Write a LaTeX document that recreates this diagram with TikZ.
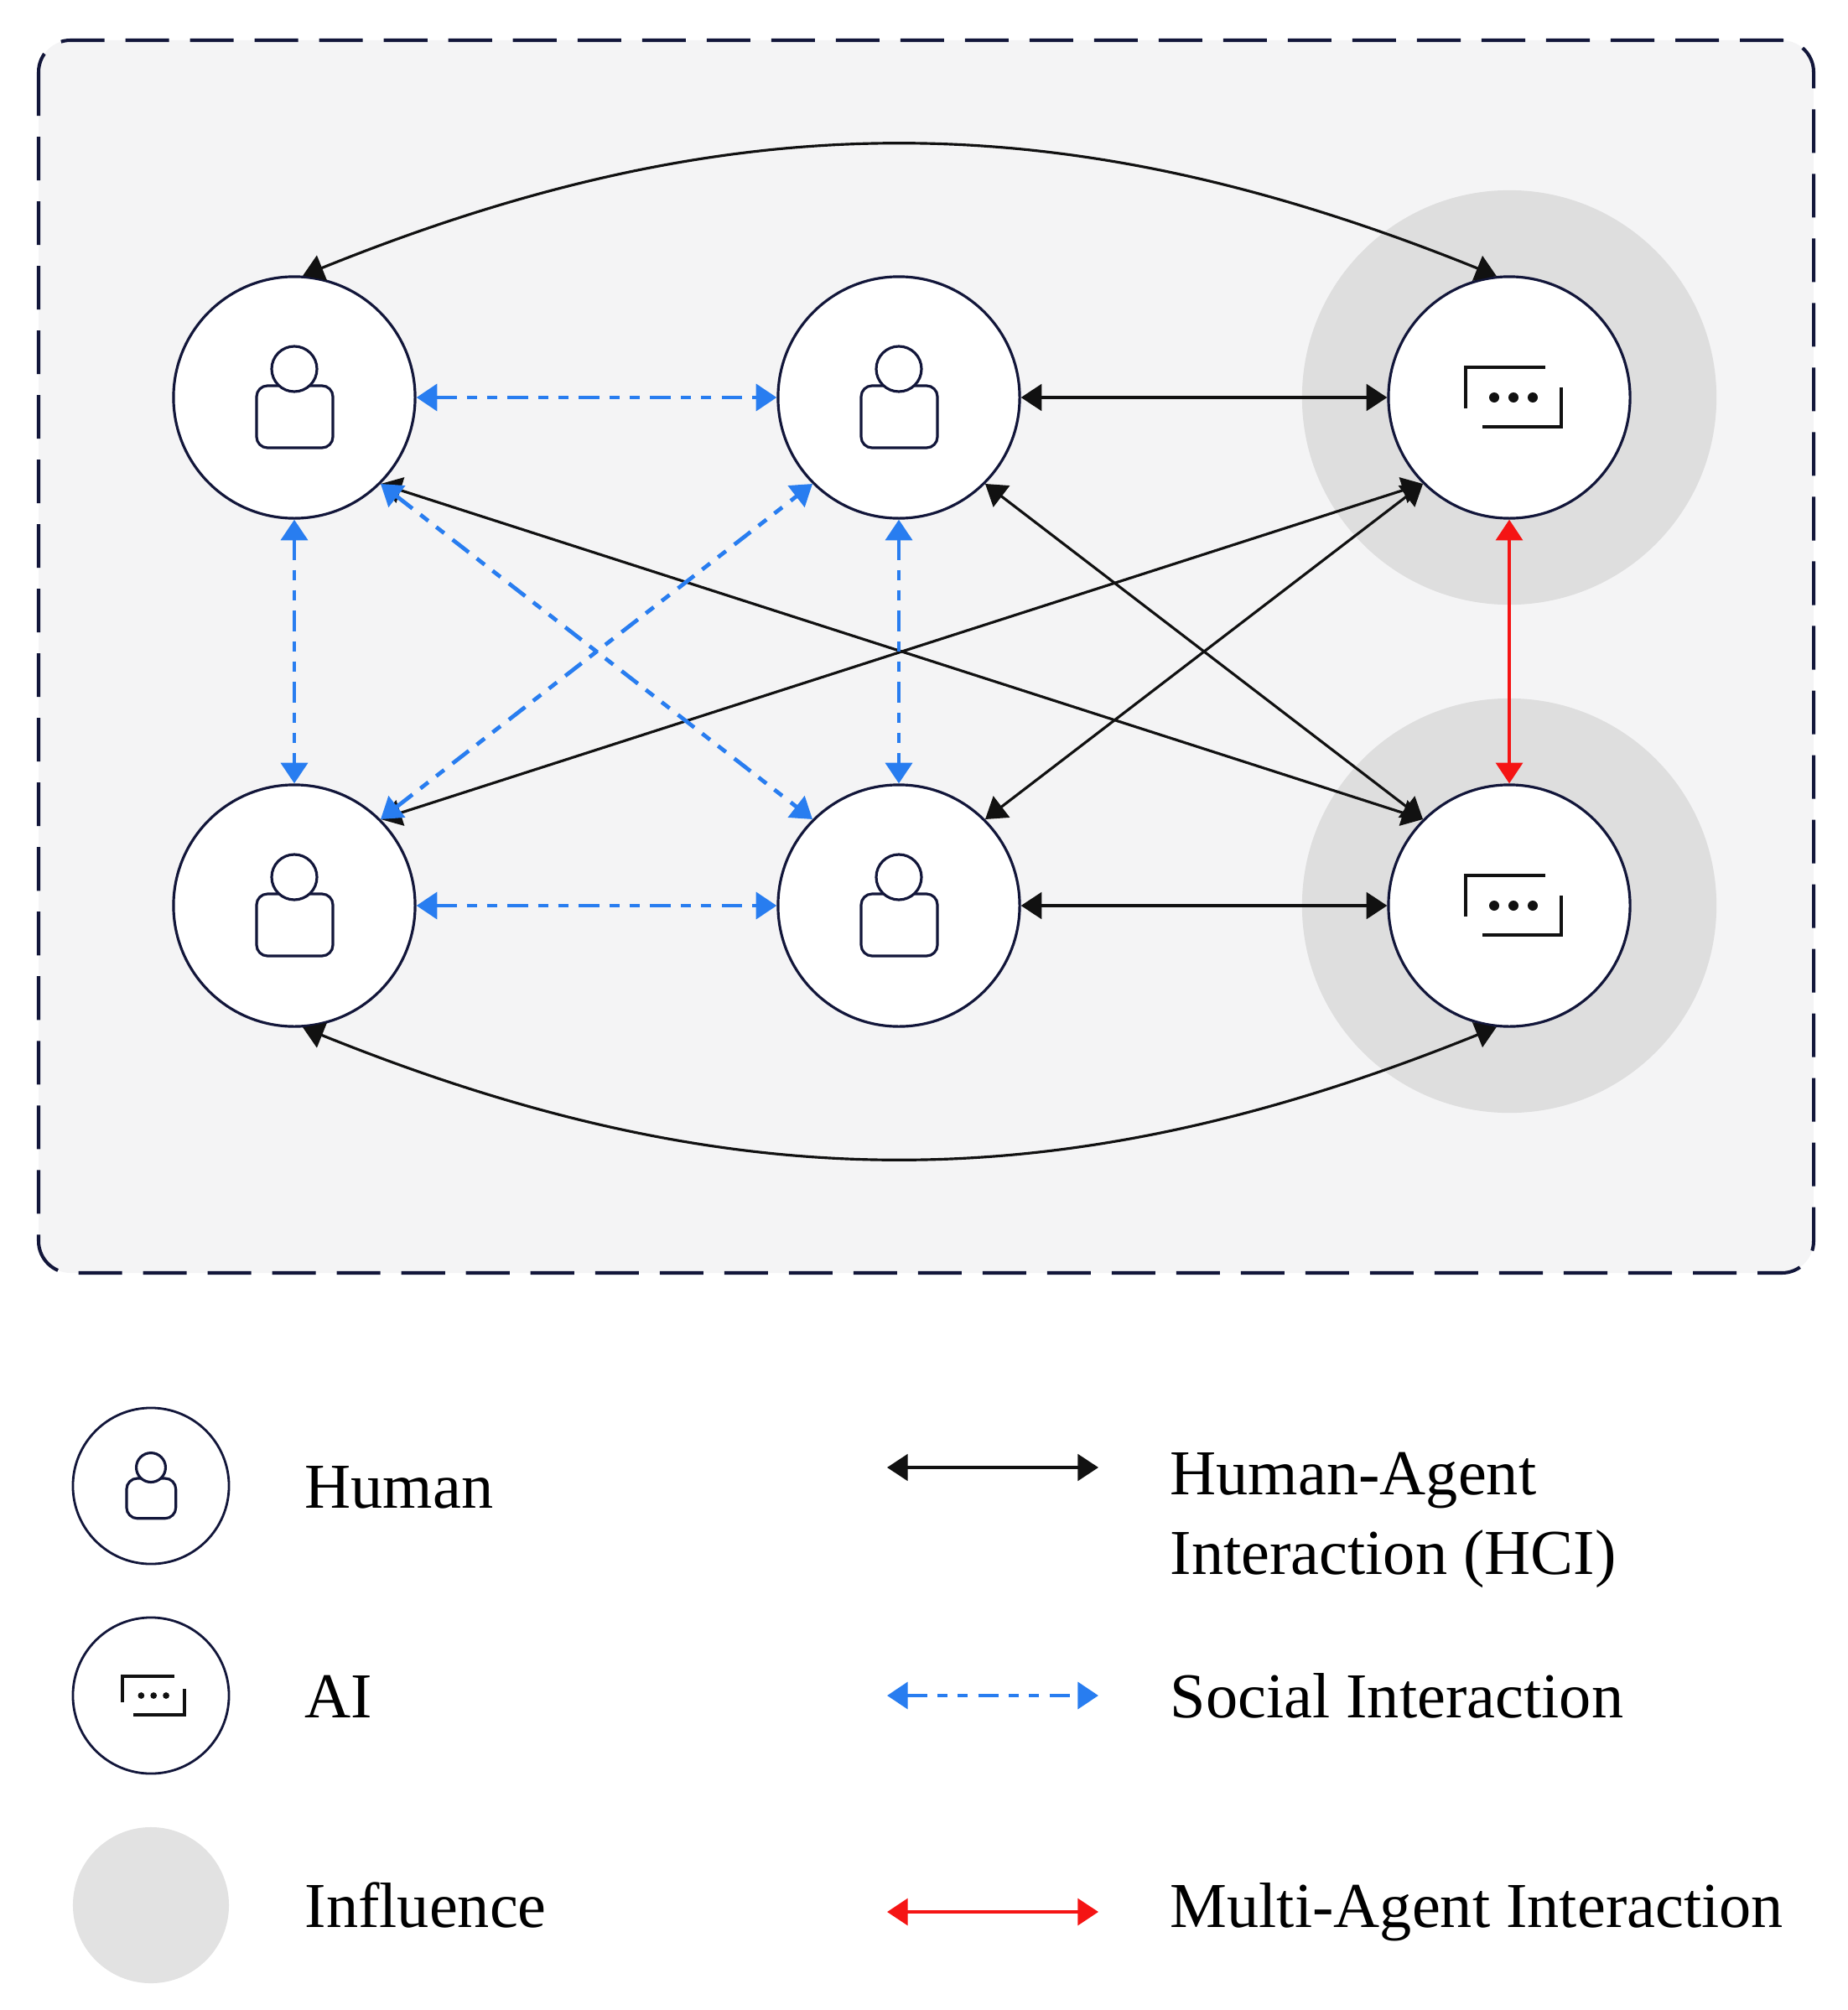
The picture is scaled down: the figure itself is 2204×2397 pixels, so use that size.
\documentclass[tikz,border=0pt]{standalone}
\usepackage{fontspec}
\setmainfont{Liberation Serif}
\usetikzlibrary{arrows.meta}
\definecolor{navy}{RGB}{18,22,58}
\definecolor{bgray}{RGB}{244,244,245}
\definecolor{infl}{RGB}{222,222,222}
\definecolor{infltwo}{RGB}{226,226,226}
\definecolor{soc}{RGB}{40,125,240}
\definecolor{hcik}{RGB}{17,17,17}
\definecolor{maired}{RGB}{245,20,20}
\begin{document}
\begin{tikzpicture}[x=0.01cm,y=0.01cm,
  agent/.style={circle,draw=navy,fill=white,line width=0.9pt,minimum size=2.88cm,inner sep=0pt},
  lagent/.style={circle,draw=navy,fill=white,line width=0.8pt,minimum size=1.86cm,inner sep=0pt},
  halo/.style={circle,fill=infl,minimum size=4.94cm,inner sep=0pt},
  frame/.style={draw=navy,fill=bgray,line width=1.15pt,rounded corners=0.38cm,dash pattern=on 14.8pt off 7.1pt},
  hci/.style={draw=hcik,line width=0.9pt,{Triangle[length=7pt,width=9pt]}-{Triangle[length=7pt,width=9pt]}},
  social/.style={draw=soc,line width=1.35pt,dash pattern=on 7pt off 3.4pt on 3.4pt off 3.4pt on 3.4pt off 3.6pt,{Triangle[length=7pt,width=9pt]}-{Triangle[length=7pt,width=9pt]}},
  mai/.style={draw=maired,line width=1.1pt,{Triangle[length=7pt,width=9pt]}-{Triangle[length=7pt,width=9pt]}},
  lbl/.style={anchor=base west,inner sep=0pt,font=\fontsize{21.7pt}{26pt}\selectfont},
  pics/person/.style={code={
    \draw[navy,line width=0.9pt,rounded corners=0.13cm] (-45,-60) rectangle (46,14);
    \draw[navy,line width=0.9pt,fill=white] (0,34) circle[radius=27];
  }},
  pics/aiicon/.style={code={
    \draw[hcik,line width=1.1pt] (-52,-13) -- (-52,36) -- (43,36);
    \draw[hcik,line width=1.1pt] (-32,-35) -- (62,-35) -- (62,12);
    \fill[hcik] (-18,0) circle[radius=6] (5,0) circle[radius=6] (28,0) circle[radius=6];
  }}
]
\useasboundingbox (0,0) rectangle (2204,-2397);

% frame
\path[frame] (46,-48) rectangle (2163,-1518);

% influence halos
\node[halo] (g1) at (1800,-474) {};
\node[halo] (g2) at (1800,-1080) {};

% agents
\node[agent] (h1) at (351,-474) {};
\node[agent] (h2) at (1072,-474) {};
\node[agent] (a1) at (1800,-474) {};
\node[agent] (h3) at (351,-1080) {};
\node[agent] (h4) at (1072,-1080) {};
\node[agent] (a2) at (1800,-1080) {};
\pic at (h1) {person};
\pic at (h2) {person};
\pic at (h3) {person};
\pic at (h4) {person};
\pic at (a1) {aiicon};
\pic at (a2) {aiicon};

% human-agent interactions
\draw[hci] (h1.86) to[out=22,in=158] (a1.96);
\draw[hci] (h3.-86) to[out=-22,in=-158] (a2.-96);
\draw[hci] (h2.east) -- (a1.west);
\draw[hci] (h4.east) -- (a2.west);
\draw[hci] (h1.-45) -- (a2.135);
\draw[hci] (h2.-45) -- (a2.135);
\draw[hci] (h3.45) -- (a1.-135);
\draw[hci] (h4.45) -- (a1.-135);

% social interactions
\draw[social] (h1.east) -- (h2.west);
\draw[social] (h3.east) -- (h4.west);
\draw[social] (h1.south) -- (h3.north);
\draw[social] (h2.south) -- (h4.north);
\draw[social] (h1.-45) -- (h4.135);
\draw[social] (h3.45) -- (h2.-135);

% multi-agent interaction
\draw[mai] (a1.south) -- (a2.north);

% legend
\node[lagent] (lh) at (180,-1772) {};
\pic[scale=0.646] at (lh) {person};
\node[lagent] (la) at (180,-2022) {};
\pic[scale=0.646] at (la) {aiicon};
\node[circle,fill=infltwo,minimum size=1.86cm,inner sep=0pt] (li) at (180,-2272) {};

\node[lbl] (th) at (363,-1798) {Human};
\node[lbl] (ta) at (363,-2048) {AI};
\node[lbl] (ti) at (363,-2298) {Influence};

\coordinate (k1a) at (1058,-1750);
\coordinate (k1b) at (1310,-1750);
\coordinate (k2a) at (1058,-2022);
\coordinate (k2b) at (1310,-2022);
\coordinate (k3a) at (1058,-2280);
\coordinate (k3b) at (1310,-2280);
\draw[hci] (k1a) -- (k1b);
\draw[social] (k2a) -- (k2b);
\draw[mai] (k3a) -- (k3b);

\node[lbl] (tk1) at (1395,-1782) {Human-Agent};
\node[lbl] (tk1b) at (1395,-1877) {Interaction (HCI)};
\node[lbl] (tk2) at (1395,-2048) {Social Interaction};
\node[lbl] (tk3) at (1395,-2298) {Multi-Agent Interaction};
\end{tikzpicture}
\end{document}
